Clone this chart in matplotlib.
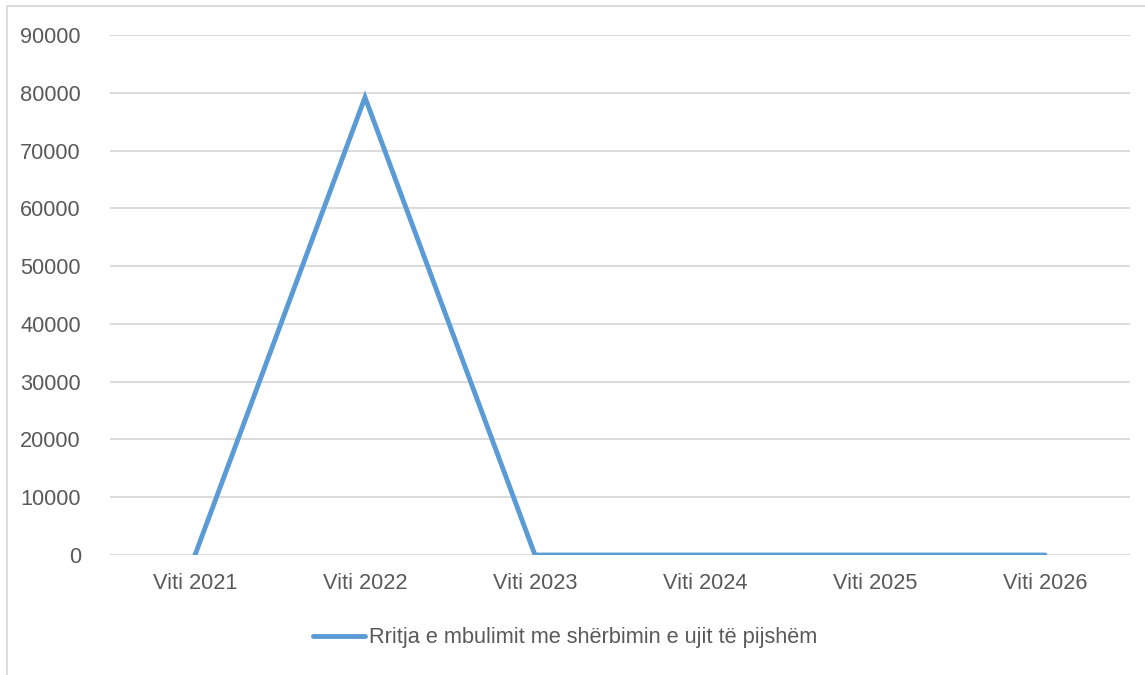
import numpy as np
import matplotlib.pyplot as plt
from matplotlib.patches import Rectangle

plt.rcParams['font.family'] = ['Liberation Sans', 'DejaVu Sans']

categories = ['Viti 2021', 'Viti 2022', 'Viti 2023', 'Viti 2024', 'Viti 2025', 'Viti 2026']
values = [0, 79200, 0, 0, 0, 0]
series_name = 'Rritja e mbulimit me shërbimin e ujit të pijshëm'

line_color = '#5B9BD5'
grid_color = '#D9D9D9'
text_color = '#595959'

fig = plt.figure(figsize=(11.45, 6.75), dpi=100)
ax = fig.add_axes([110/1145, 1-555/675, 1020/1145, 520/675])

x = np.arange(len(categories))
ax.plot(x, values, color=line_color, lw=3.5, solid_capstyle='round',
        solid_joinstyle='miter', label=series_name, zorder=3)

ax.set_xlim(-0.5, len(categories) - 0.5)
ax.set_ylim(0, 90000)
ax.set_yticks(np.arange(0, 90001, 10000))
ax.set_xticks(x)
ax.set_xticklabels(categories)

ax.yaxis.grid(True, color=grid_color, lw=1.3)
ax.set_axisbelow(True)
for s in ax.spines.values():
    s.set_visible(False)
ax.tick_params(axis='both', length=0, labelsize=15.7, colors=text_color)
ax.tick_params(axis='y', pad=21)
ax.tick_params(axis='x', pad=13)

leg = fig.legend(loc='center', bbox_to_anchor=(565/1145, 1-638/675), frameon=False,
                 fontsize=15.7, handlelength=2.4, handletextpad=0.15)
for t in leg.get_texts():
    t.set_color(text_color)

# chart area border (only left and top edges in view)
fig.patches.append(Rectangle((7/1145, -0.05), 1.2, 1-6/675+0.05, transform=fig.transFigure,
                             fill=False, edgecolor=grid_color, lw=1.3))

fig.savefig('out.png', dpi=100)
